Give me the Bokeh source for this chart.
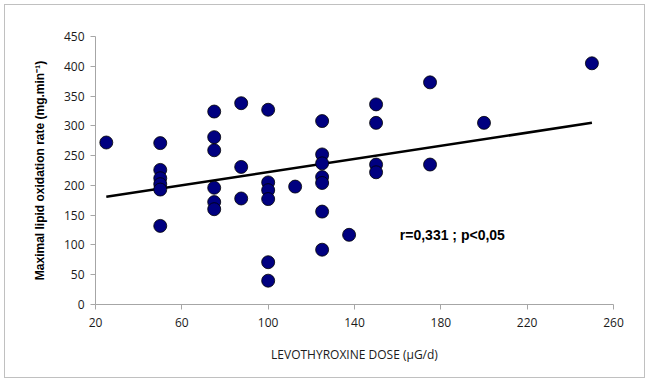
from bokeh.plotting import figure
from bokeh.models import Label, FixedTicker, Range1d
from bokeh.embed import file_html
from bokeh.resources import INLINE

# Data
dose = [25,
        50, 50, 50, 50, 50, 50,
        75, 75, 75, 75, 75, 75,
        87.5, 87.5, 87.5,
        100, 100, 100, 100, 100, 100,
        112.5,
        125, 125, 125, 125, 125, 125, 125,
        137.5,
        150, 150, 150, 150,
        175, 175,
        200,
        250]
lipid_ox = [272,
            271, 226, 212, 202, 193, 132,
            324, 281, 259, 196, 172, 160,
            338, 231, 178,
            327, 205, 192, 177, 71, 40,
            198,
            308, 252, 237, 214, 204, 156, 92,
            117,
            336, 305, 235, 222,
            373, 235,
            305,
            405]
trend_x = [25, 250]
trend_y = [181, 305]
x_ticks = [20, 60, 100, 140, 180, 220, 260]
y_ticks = [0, 50, 100, 150, 200, 250, 300, 350, 400, 450]

p = figure(width=641, height=374, output_backend="svg", toolbar_location=None,
           x_range=Range1d(20, 260), y_range=Range1d(0, 450),
           min_border_left=90, min_border_right=33, min_border_top=31, min_border_bottom=75)
p.styles = {"border": "1px solid #c0c0c0", "margin": "4px"}
p.outline_line_color = None
p.xgrid.visible = False
p.ygrid.visible = False

p.line(trend_x, trend_y, line_color="black", line_width=2.5)
p.scatter(dose, lipid_ox, size=13, fill_color="#000080", line_color="#000000", line_width=0.8)

for ax in (p.xaxis[0], p.yaxis[0]):
    ax.axis_line_color = "#a6a6a6"
    ax.major_tick_line_color = "#a6a6a6"
    ax.minor_tick_line_color = None
    ax.major_tick_in = 0
    ax.major_tick_out = 5
    ax.major_label_text_font = "Open Sans"
    ax.major_label_text_font_size = "12px"
    ax.major_label_text_color = "#1a1a1a"

p.xaxis[0].ticker = FixedTicker(ticks=x_ticks)
p.yaxis[0].ticker = FixedTicker(ticks=y_ticks)
p.xaxis[0].major_label_standoff = 8
p.yaxis[0].major_label_standoff = 6

p.xaxis[0].axis_label = "LEVOTHYROXINE DOSE (µG/d)"
p.xaxis[0].axis_label_text_font = "Open Sans"
p.xaxis[0].axis_label_text_font_style = "normal"
p.xaxis[0].axis_label_text_font_size = "12px"
p.xaxis[0].axis_label_text_color = "#1a1a1a"
p.xaxis[0].axis_label_standoff = 16

p.yaxis[0].axis_label = "Maximal lipid oxidation rate (mg.min⁻¹)"
p.yaxis[0].axis_label_text_font = "Liberation Sans"
p.yaxis[0].axis_label_text_font_style = "bold"
p.yaxis[0].axis_label_text_font_size = "12px"
p.yaxis[0].axis_label_text_color = "#000000"
p.yaxis[0].axis_label_standoff = 14

p.add_layout(Label(x=161, y=116, text="r=0,331 ; p<0,05", text_font="Liberation Sans",
                   text_font_style="bold", text_font_size="14px", text_baseline="middle",
                   text_color="#000000"))

open("out.html", "w").write(file_html(p, INLINE))
